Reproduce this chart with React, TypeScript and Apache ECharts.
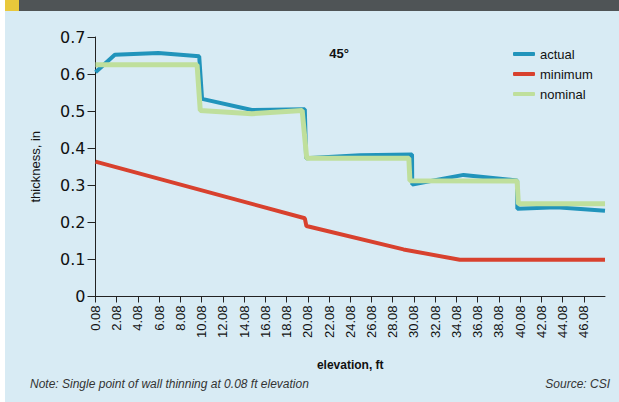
import React, { useEffect, useRef } from "react";
import * as echarts from "echarts";

// elevation (ft), thickness (in)
const actualElev = [0.08, 1.9, 6.0, 9.85, 10.12, 14.8, 19.8, 19.92, 25.0, 29.9, 29.92, 34.75, 39.8, 39.82, 43.5, 48.08];
const actualThk = [0.605, 0.652, 0.657, 0.648, 0.533, 0.503, 0.505, 0.373, 0.381, 0.383, 0.302, 0.328, 0.313, 0.237, 0.241, 0.231];

const minimumElev = [0.08, 19.8, 19.95, 29.1, 34.4, 48.08];
const minimumThk = [0.364, 0.211, 0.19, 0.127, 0.099, 0.099];

const nominalElev = [0.08, 9.65, 9.95, 14.8, 19.55, 19.98, 29.6, 29.7, 39.8, 39.92, 48.08];
const nominalThk = [0.625, 0.625, 0.502, 0.493, 0.502, 0.373, 0.373, 0.3125, 0.3115, 0.25, 0.25];

const elevationTicks = [0.08, 2.08, 4.08, 6.08, 8.08, 10.08, 12.08, 14.08, 16.08, 18.08, 20.08, 22.08, 24.08, 26.08, 28.08, 30.08, 32.08, 34.08, 36.08, 38.08, 40.08, 42.08, 44.08, 46.08];

const seriesNames = ["actual", "minimum", "nominal"];
const seriesColors = ["#2194bb", "#d8412e", "#bfdf9c"];

const zip = (xs: number[], ys: number[]) => xs.map((x, i) => [x, ys[i]]);

export default function App() {
  const ref = useRef<HTMLDivElement>(null);
  useEffect(() => {
    document.body.style.margin = "0";
    const chart = echarts.init(ref.current!, null, { renderer: "svg" });
    const font = "'Liberation Sans', Arial, sans-serif";
    chart.setOption({
      animation: false,
      backgroundColor: "#ffffff",
      textStyle: { fontFamily: font },
      graphic: [
        { type: "rect", shape: { x: 5, y: 0, width: 614, height: 402 }, style: { fill: "#d8ebf4" }, z: -10 },
        { type: "rect", shape: { x: 0, y: 0, width: 619, height: 11 }, style: { fill: "#4f5456" }, z: -9 },
        { type: "rect", shape: { x: 0, y: 0, width: 5, height: 402 }, style: { fill: "#ffffff" }, z: -8 },
        { type: "rect", shape: { x: 5, y: 0, width: 14, height: 11 }, style: { fill: "#e9c83b" }, z: -7 },
        { type: "text", x: 339, y: 53, style: { text: "45°", font: `bold 13px ${font}`, fill: "#111111", align: "center", verticalAlign: "middle" } },
        { type: "text", x: 30, y: 384, style: { text: "Note: Single point of wall thinning at 0.08 ft elevation", font: `italic 12px ${font}`, fill: "#333333", align: "left", verticalAlign: "middle" } },
        { type: "text", x: 610, y: 384, style: { text: "Source: CSI", font: `italic 12px ${font}`, fill: "#333333", align: "right", verticalAlign: "middle" } },
      ],
      legend: {
        orient: "vertical",
        left: 508,
        top: 42,
        itemWidth: 22,
        itemHeight: 4,
        itemGap: 6,
        icon: "roundRect",
        data: seriesNames,
        textStyle: { fontSize: 13, lineHeight: 14, color: "#111111", fontFamily: font },
      },
      grid: { left: 95.5, right: 14, top: 37, bottom: 105.5 },
      xAxis: {
        type: "value",
        min: 0.08,
        max: 48.08,
        name: "elevation, ft",
        nameLocation: "middle",
        nameGap: 62,
        nameTextStyle: { fontSize: 12, fontWeight: "bold", color: "#111111" },
        splitLine: { show: false },
        axisLine: { lineStyle: { color: "#222", width: 1 } },
        axisTick: { customValues: elevationTicks, length: 6, lineStyle: { color: "#222" } },
        axisLabel: {
          customValues: elevationTicks,
          rotate: 90,
          margin: 9,
          fontSize: 13,
          color: "#111111",
          formatter: (v: number) => v.toFixed(2),
        },
      },
      yAxis: {
        type: "value",
        min: 0,
        max: 0.7,
        interval: 0.1,
        name: "thickness, in",
        nameLocation: "middle",
        nameGap: 54,
        nameTextStyle: { fontSize: 13, color: "#111111" },
        splitLine: { show: false },
        axisLine: { show: true, lineStyle: { color: "#222", width: 1 } },
        axisTick: { show: true, length: 8, lineStyle: { color: "#222" } },
        axisLabel: {
          margin: 10,
          fontSize: 16,
          fontFamily: "'DejaVu Sans', sans-serif",
          color: "#111111",
          formatter: (v: number) => (v === 0 ? "0" : v.toFixed(1)),
        },
      },
      series: [
        { name: "actual", type: "line", data: zip(actualElev, actualThk), showSymbol: false, symbol: "none", lineStyle: { width: 4, color: seriesColors[0] }, itemStyle: { color: seriesColors[0] }, z: 2 },
        { name: "minimum", type: "line", data: zip(minimumElev, minimumThk), showSymbol: false, symbol: "none", lineStyle: { width: 4, color: seriesColors[1] }, itemStyle: { color: seriesColors[1] }, z: 3 },
        { name: "nominal", type: "line", data: zip(nominalElev, nominalThk), showSymbol: false, symbol: "none", lineStyle: { width: 5, color: seriesColors[2] }, itemStyle: { color: seriesColors[2] }, z: 4 },
      ],
    });
    return () => chart.dispose();
  }, []);
  return <div ref={ref} style={{ position: "fixed", left: 0, top: 0, width: 619, height: 402 }} />;
}
